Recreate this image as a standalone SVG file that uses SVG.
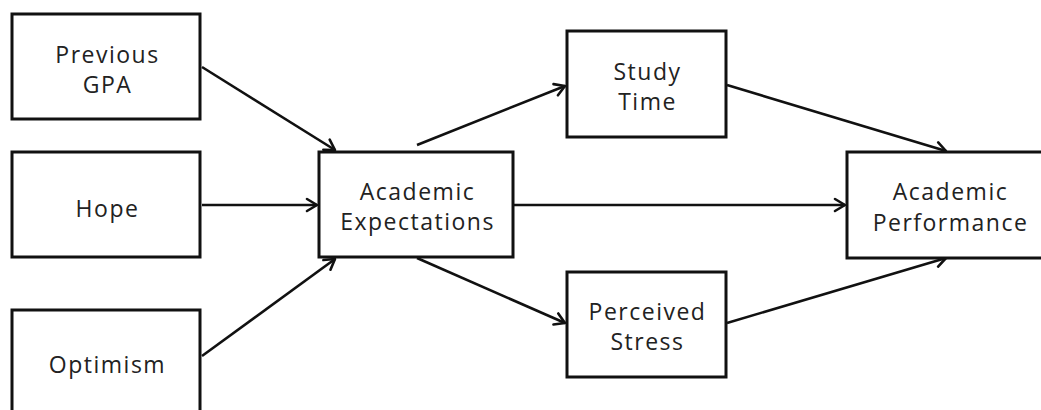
<svg xmlns="http://www.w3.org/2000/svg" width="1041" height="410" viewBox="0 0 1041 410">
<defs>
<style>
.box{fill:#fff;stroke:#111;stroke-width:3}
.t{font-family:"Open Sans","Noto Sans",sans-serif;font-size:23px;letter-spacing:1.5px;fill:#222;text-anchor:middle}
.c{stroke:#111;stroke-width:2.6;fill:none;marker-end:url(#ah)}
</style>
<marker id="ah" markerUnits="userSpaceOnUse" markerWidth="16" markerHeight="16" viewBox="0 0 16 16" refX="13" refY="8" orient="auto">
<path d="M3,2 L13,8 L3,14" fill="none" stroke="#111" stroke-width="2.6" stroke-linecap="round" stroke-linejoin="round"/>
</marker>
</defs>
<rect width="1041" height="410" fill="#fff"/>
<g id="connectors">
<line class="c" x1="202" y1="67" x2="335" y2="150"/>
<line class="c" x1="202" y1="205" x2="317" y2="205"/>
<line class="c" x1="202" y1="356" x2="335" y2="259"/>
<line class="c" x1="417" y1="145" x2="565" y2="86"/>
<line class="c" x1="513" y1="205" x2="845" y2="205"/>
<line class="c" x1="417" y1="258" x2="565" y2="323"/>
<line class="c" x1="727" y1="85" x2="946" y2="151"/>
<line class="c" x1="727" y1="323" x2="946" y2="258"/>
</g>
<g id="previous-gpa">
<rect class="box" x="12" y="14" width="188" height="105"/>
<text class="t" x="107.5" y="63">Previous</text>
<text class="t" x="107.5" y="93">GPA</text>
</g>
<g id="hope">
<rect class="box" x="12" y="152" width="188" height="105"/>
<text class="t" x="107.5" y="217">Hope</text>
</g>
<g id="optimism">
<rect class="box" x="12" y="310" width="188" height="110"/>
<text class="t" x="107.5" y="373">Optimism</text>
</g>
<g id="academic-expectations">
<rect class="box" x="319" y="152" width="194" height="105"/>
<text class="t" x="417.5" y="200">Academic</text>
<text class="t" x="417.5" y="230">Expectations</text>
</g>
<g id="study-time">
<rect class="box" x="567" y="31" width="159" height="106"/>
<text class="t" x="647.5" y="80">Study</text>
<text class="t" x="647.5" y="110">Time</text>
</g>
<g id="perceived-stress">
<rect class="box" x="567" y="272" width="159" height="105"/>
<text class="t" x="647.5" y="320">Perceived</text>
<text class="t" x="647.5" y="350">Stress</text>
</g>
<g id="academic-performance">
<rect class="box" x="847" y="152" width="204" height="106"/>
<text class="t" x="950.5" y="200">Academic</text>
<text class="t" x="950.5" y="231">Performance</text>
</g>
</svg>
